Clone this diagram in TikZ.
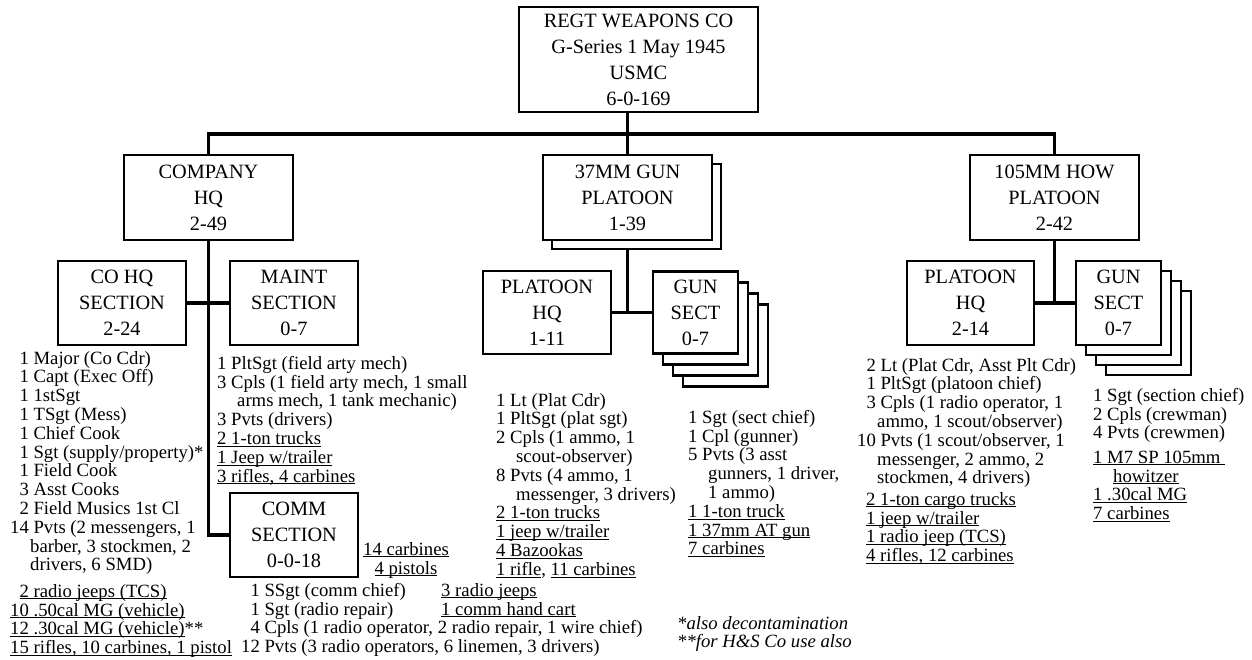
\documentclass[tikz,border=0pt]{standalone}
\usepackage{fontspec}
\setmainfont{Liberation Serif}
\usetikzlibrary{positioning,calc}

\newcommand\boxfont{\fontsize{20.3}{26}\selectfont}
\newcommand\listfont{\fontsize{18.7}{18.8}\selectfont}
\newcommand\ul[1]{\underline{\rule{0pt}{0.7em}\smash{#1}}}
\newcommand\ind{\hspace*{20pt}}

\begin{document}
\begin{tikzpicture}[x=1pt,y=-1pt,
  unit/.style={draw,line width=2.2pt,fill=white,align=center,font=\boxfont,inner sep=0pt},
  wide/.style={unit,minimum width=169pt,minimum height=85pt},
  sect/.style={unit,minimum width=128pt,minimum height=84pt},
  gunbox/.style={unit,minimum width=85pt,minimum height=82pt},
  roster/.style={anchor=north west,align=left,font=\listfont,inner sep=0pt},
  link/.style={line width=3.5pt}]
  \useasboundingbox (0,0) rectangle (1252,660);

  % top of the chart
  \node[unit,minimum width=239pt,minimum height=105pt] (regt) at (638.5,59.5)
    {REGT WEAPONS CO\\G-Series 1 May 1945\\USMC\\6-0-169};

  % platoons
  \node[wide] (cohq) at (208.5,197.5) {COMPANY\\HQ\\2-49};
  \node[wide] (gun37s) at (636.5,206.5) {};
  \node[wide] (gun37) at (627.5,197.5) {37MM GUN\\PLATOON\\1-39};
  \node[wide] (how105) at (1054.5,197.5) {105MM HOW\\PLATOON\\2-42};

  % sections
  \node[sect] (cohqsec) at (122,303) {CO HQ\\SECTION\\2-24};
  \node[sect] (maintsec) at (294,303) {MAINT\\SECTION\\0-7};
  \node[sect] (commsec) at (294,535) {COMM\\SECTION\\0-0-18};
  \node[sect,minimum height=83pt] (plthq37) at (547,312.5) {PLATOON\\HQ\\1-11};
  \foreach \k in {3,2,1}
    \node[gunbox] (gunsect37-\k) at (695.5+\k*10,312.5+\k*11) {};
  \node[gunbox] (gunsect37) at (695.5,312.5) {GUN\\SECT\\0-7};
  \node[sect,minimum width=127pt] (plthq105) at (970.5,303) {PLATOON\\HQ\\2-14};
  \foreach \k in {3,2,1}
    \node[gunbox,minimum height=84pt] (gunsect105-\k) at (1118.5+\k*10,303+\k*10) {};
  \node[gunbox,minimum height=84pt] (gunsect105) at (1118.5,303) {GUN\\SECT\\0-7};

  % connectors
  \coordinate (bus) at (0,134);
  \draw[link] (regt.south -| gun37.north) -- (gun37.north);
  \draw[link] (cohq.north) -- (cohq.north |- bus) -- (how105.north |- bus) -- (how105.north);
  \draw[link] (cohq.south) |- (commsec.west);
  \draw[link] (cohqsec.east) -- (maintsec.west);
  \draw[link] (gun37.south |- gun37s.south) -- (gun37.south |- plthq37.east);
  \draw[link] (plthq37.east) -- (gunsect37.west);
  \draw[link] (how105.south) -- (how105.south |- plthq105.east);
  \draw[link] (plthq105.east) -- (gunsect105.west);

  % rosters
  \node[roster] (cohqlist) at (10,351) {\phantom{1}1 Major (Co Cdr)\\\phantom{1}1 Capt (Exec Off)\\
    \phantom{1}1 1stSgt\\\phantom{1}1 TSgt (Mess)\\\phantom{1}1 Chief Cook\\
    \phantom{1}1 Sgt (supply/property)*\\\phantom{1}1 Field Cook\\\phantom{1}3 Asst Cooks\\
    \phantom{1}2 Field Musics 1st Cl\\14 Pvts (2 messengers, 1\\\ind barber, 3 stockmen, 2\\
    \ind drivers, 6 SMD)};
  \node[roster] (cohqgear) at (10,584) {\phantom{1}\ul{2 radio jeeps (TCS)}\\
    \ul{10 .50cal MG (vehicle)}\\\ul{12 .30cal MG (vehicle)}**\\
    \ul{15 rifles, 10 carbines, 1 pistol}};
  \node[roster] (maintlist) at (217,356) {1 PltSgt (field arty mech)\\
    3 Cpls (1 field arty mech, 1 small\\\ind arms mech, 1 tank mechanic)\\
    3 Pvts (drivers)\\\ul{2 1-ton trucks}\\\ul{1 Jeep w/trailer}\\\ul{3 rifles, 4 carbines}};
  \node[roster,anchor=north,align=center] (commgear) at (406,542) {\ul{14 carbines}\\\ul{4 pistols}};
  \node[roster] (commlist) at (241,583) {\phantom{1}1 SSgt (comm chief)\\\phantom{1}1 Sgt (radio repair)\\
    \phantom{1}4 Cpls (1 radio operator, 2 radio repair, 1 wire chief)\\
    12 Pvts (3 radio operators, 6 linemen, 3 drivers)};
  \node[roster] (commcart) at (441,583) {\ul{3 radio jeeps}\\\ul{1 comm hand cart}};
  \node[roster] (plthq37list) at (496,393) {1 Lt (Plat Cdr)\\1 PltSgt (plat sgt)\\
    2 Cpls (1 ammo, 1\\\ind scout-observer)\\8 Pvts (4 ammo, 1\\\ind messenger, 3 drivers)\\
    \ul{2 1-ton trucks}\\\ul{1 jeep w/trailer}\\\ul{4 Bazookas}\\\ul{1 rifle}, \ul{11 carbines}};
  \node[roster] (gunsect37list) at (688,410) {1 Sgt (sect chief)\\1 Cpl (gunner)\\5 Pvts (3 asst\\
    \ind gunners, 1 driver,\\\ind 1 ammo)\\\ul{1 1-ton truck}\\\ul{1 37mm AT gun}\\\ul{7 carbines}};
  \node[roster] (plthq105list) at (857,358) {\phantom{1}2 Lt (Plat Cdr, Asst Plt Cdr)\\
    \phantom{1}1 PltSgt (platoon chief)\\\phantom{1}3 Cpls (1 radio operator, 1\\
    \ind ammo, 1 scout/observer)\\10 Pvts (1 scout/observer, 1\\\ind messenger, 2 ammo, 2\\
    \ind stockmen, 4 drivers)};
  \node[roster] (plthq105gear) at (866,492) {\ul{2 1-ton cargo trucks}\\\ul{1 jeep w/trailer}\\
    \ul{1 radio jeep (TCS)}\\\ul{4 rifles, 12 carbines}};
  \node[roster] (gunsect105list) at (1093,388) {1 Sgt (section chief)\\2 Cpls (crewman)\\4 Pvts (crewmen)};
  \node[roster] (gunsect105gear) at (1093,450) {\ul{1 M7 SP 105mm\ }\\\ind\ul{howitzer}\\
    \ul{1 .30cal MG}\\\ul{7 carbines}};

  % footnotes
  \node[roster,font=\listfont\itshape] (notes) at (677,616) {*also decontamination\\**for H\&S Co use also};
\end{tikzpicture}
\end{document}
